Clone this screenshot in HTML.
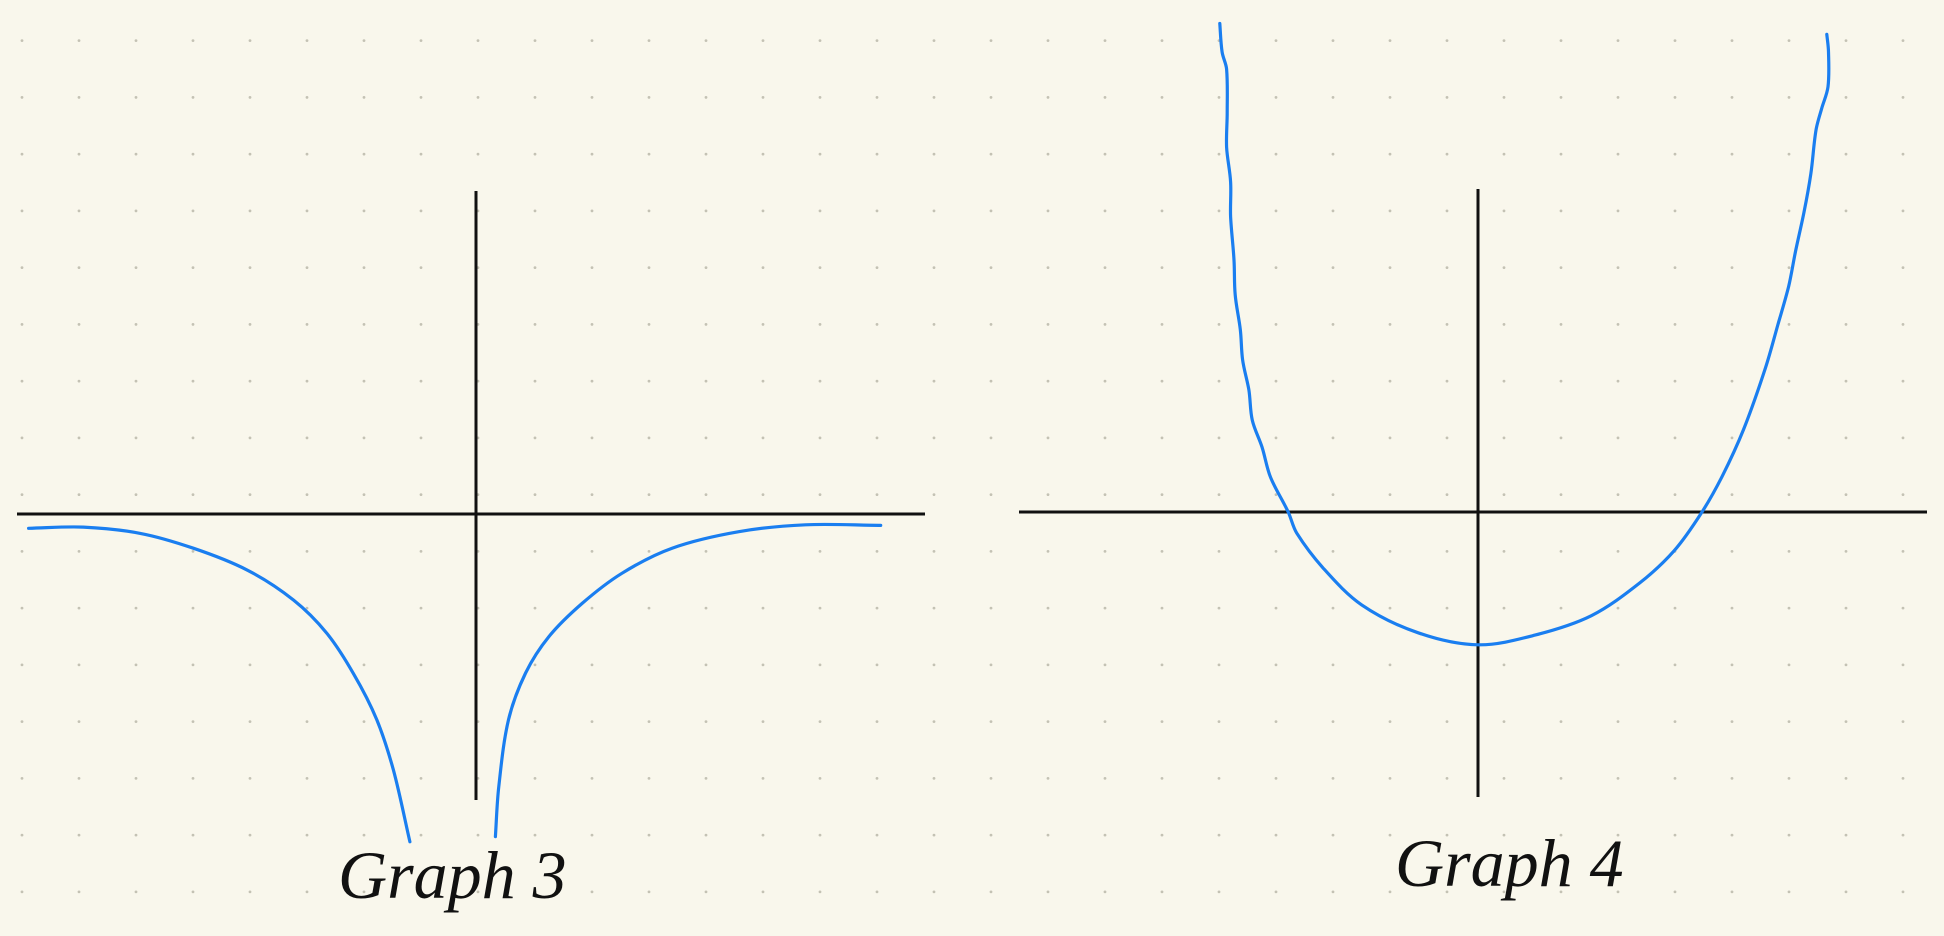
<!DOCTYPE html>
<html><head><meta charset="utf-8"><style>
html,body{margin:0;padding:0;background:#f9f7ec;}
svg{display:block;}
.lbl{font-family:"Liberation Serif",serif;font-style:italic;font-size:68px;fill:#111;}
</style></head><body>
<svg id="s" width="1944" height="936" viewBox="0 0 1944 936">
<g id="dots"></g>
<g>
<line x1="17" y1="514" x2="925" y2="514" stroke="#111" stroke-width="3"/>
<line x1="476" y1="191" x2="476" y2="800" stroke="#111" stroke-width="3"/>
<text x="338" y="898" class="lbl">Graph 3</text>
</g>
<g>
<line x1="1019" y1="512" x2="1927" y2="512" stroke="#111" stroke-width="3"/>
<line x1="1478" y1="189" x2="1478" y2="797" stroke="#111" stroke-width="3"/>
<text x="1395" y="886" class="lbl">Graph 4</text>
</g>
<g id="curves"></g>
</svg>
<script>
const g3LeftX=[-7.85,-6.89,-5.89,-4.96,-4.02,-3.20,-2.62,-2.15,-1.74,-1.45,-1.16];
const g3LeftY=[-0.25,-0.23,-0.34,-0.60,-0.98,-1.51,-2.09,-2.80,-3.61,-4.49,-5.75];
const g3RightX=[0.34,0.40,0.57,0.87,1.28,1.86,2.56,3.44,4.61,5.78,7.10];
const g3RightY=[-5.66,-4.78,-3.61,-2.79,-2.15,-1.57,-1.04,-0.60,-0.31,-0.19,-0.20];
const g4X=[-4.53,-4.49,-4.41,-4.40,-4.41,-4.34,-4.34,-4.28,-4.26,-4.17,-4.13,-4.02,-3.96,-3.79,-3.64,-3.33,-3.18,-2.72,-2.04,-1.05,0,1.00,1.99,2.83,3.44,3.93,4.28,4.66,5.04,5.26,5.45,5.57,5.72,5.84,5.93,6.03,6.14,6.15,6.12];
const g4Y=[8.57,8.07,7.77,7.01,6.40,5.79,5.18,4.42,3.81,3.20,2.67,2.14,1.61,1.14,0.61,0,-0.37,-0.98,-1.63,-2.12,-2.33,-2.16,-1.82,-1.25,-0.68,0,0.62,1.45,2.52,3.28,3.96,4.57,5.26,5.94,6.70,7.08,7.46,8.07,8.38];
const NS='http://www.w3.org/2000/svg';
const UNIT=57;
function axis(ox,oy){return {x:v=>ox+v*UNIT,y:v=>oy-v*UNIT};}
const ax3=axis(476,514), ax4=axis(1478,512);
function dist(a,b){return Math.hypot(a[0]-b[0],a[1]-b[1])||1;}
function pathFrom(xs,ys,ax){
  const p=xs.map((v,i)=>[ax.x(v),ax.y(ys[i])]);
  const n=p.length,t=[];
  for(let i=0;i<n;i++){
    const a=p[i-1]||p[i],b=p[i+1]||p[i];
    const la=i>0?dist(p[i-1],p[i]):0, lb=i<n-1?dist(p[i],p[i+1]):0;
    t.push([(b[0]-a[0])/(la+lb),(b[1]-a[1])/(la+lb)]);
  }
  let d='M'+p[0][0].toFixed(1)+','+p[0][1].toFixed(1);
  for(let i=0;i<n-1;i++){
    const L=dist(p[i],p[i+1])/3;
    const c1=[p[i][0]+t[i][0]*L,p[i][1]+t[i][1]*L];
    const c2=[p[i+1][0]-t[i+1][0]*L,p[i+1][1]-t[i+1][1]*L];
    d+=' C'+c1.map(v=>v.toFixed(1))+' '+c2.map(v=>v.toFixed(1))+' '+p[i+1].map(v=>v.toFixed(1));
  }
  return d;
}
const cg=document.getElementById('curves');
function addCurve(xs,ys,ax,name){
  const el=document.createElementNS(NS,'path');
  el.setAttribute('d',pathFrom(xs,ys,ax));
  el.setAttribute('fill','none');el.setAttribute('stroke','#1a7ef0');
  el.setAttribute('stroke-width','3.2');el.setAttribute('stroke-linecap','round');el.setAttribute('stroke-linejoin','round');
  
  
  cg.appendChild(el);
}
addCurve(g3LeftX,g3LeftY,ax3,'graph3-left-branch');
addCurve(g3RightX,g3RightY,ax3,'graph3-right-branch');
addCurve(g4X,g4Y,ax4,'graph4-curve');
const dg=document.getElementById('dots');
for(let y=40.6;y<936;y+=56.75){for(let x=22;x<1944;x+=57){
  const c=document.createElementNS(NS,'circle');
  c.setAttribute('cx',x);c.setAttribute('cy',y);c.setAttribute('r','1.4');c.setAttribute('fill','#c4c2b4');
  
  
  dg.appendChild(c);
}}
</script>
</body></html>
